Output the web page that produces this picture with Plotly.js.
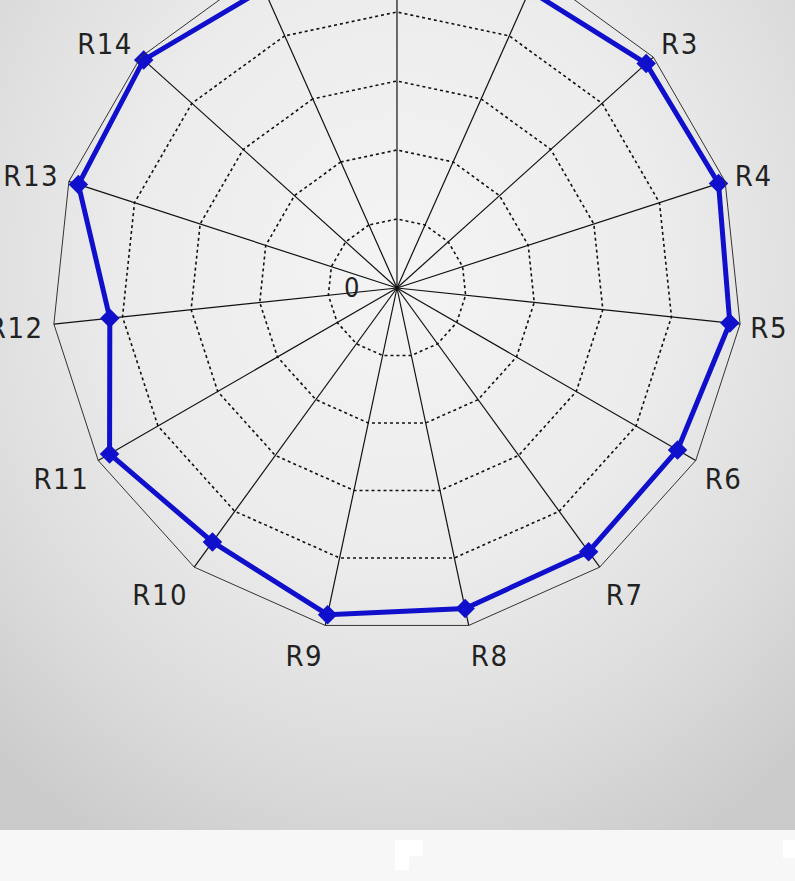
<!DOCTYPE html>
<html>
<head>
<meta charset="utf-8">
<script src="https://cdn.plot.ly/plotly-3.0.1.min.js"></script>
<style>
  html, body { margin:0; padding:0; width:795px; height:881px; overflow:hidden; }
  #bg { position:absolute; left:0; top:0; width:795px; height:830px;
        background: radial-gradient(ellipse 75% 80% at 50% 32%, #f4f4f4 0%, #ececec 45%, #dcdcdc 75%, #cbcbcb 100%); }
  #strip { position:absolute; left:0; top:830px; width:795px; height:51px; background:#f7f7f7; }
  .wb { position:absolute; background:#ffffff; }
  #chart { position:absolute; left:0; top:-100px; width:795px; height:1000px; }
  #chart svg text { letter-spacing: 1.5px; }
</style>
</head>
<body>
<div id="bg"></div>
<div id="strip"></div>
<div class="wb" style="left:395px;top:840px;width:28px;height:16px;"></div>
<div class="wb" style="left:395px;top:856px;width:14px;height:14px;"></div>
<div class="wb" style="left:783px;top:840px;width:12px;height:18px;"></div>
<div id="chart"></div>
<script>
const categories = ['R1','R2','R3','R4','R5','R6','R7','R8','R9','R10','R11','R12','R13','R14','R15'];
const values = [96, 94.4, 97.2, 98, 97, 93.9, 94.5, 95, 96.8, 91, 96.2, 83.7, 97.1, 98.8, 94.9];
const radialTicks = [0, 20, 40, 60, 80, 100];
const radialTickText = ['0', '', '', '', '', ''];

const trace = {
  type: 'scatterpolar',
  r: values.concat([values[0]]),
  theta: categories.concat([categories[0]]),
  mode: 'lines+markers',
  line: { color: '#1010cc', width: 5 },
  marker: { symbol: 'diamond', size: 15, color: '#1010cc' },
  hoverinfo: 'skip',
  showlegend: false
};

const layout = {
  width: 795, height: 1000,
  margin: { l: 0, r: 0, t: 0, b: 0 },
  paper_bgcolor: 'rgba(0,0,0,0)',
  plot_bgcolor: 'rgba(0,0,0,0)',
  showlegend: false,
  polar: {
    domain: { x: [0.0654, 0.9333], y: [0.267, 0.957] },
    bgcolor: 'rgba(0,0,0,0)',
    gridshape: 'linear',
    angularaxis: {
      type: 'category',
      categoryarray: categories,
      rotation: 90,
      direction: 'clockwise',
      showline: true,
      linecolor: '#333333',
      linewidth: 1,
      showgrid: true,
      gridcolor: '#111111',
      gridwidth: 1.2,
      ticks: 'outside',
      ticklen: 4,
      tickcolor: 'rgba(0,0,0,0)',
      tickfont: { family: 'DejaVu Sans Condensed, DejaVu Sans, Arial', size: 29, color: '#222222' }
    },
    radialaxis: {
      range: [0, 100],
      angle: 90,
      side: 'counterclockwise',
      tickmode: 'array',
      tickvals: radialTicks,
      ticktext: radialTickText,
      tickangle: 90,
      showline: false,
      showgrid: true,
      gridcolor: '#111111',
      gridwidth: 1.6,
      griddash: '3px,3px',
      ticks: 'outside',
      ticklen: 26,
      tickcolor: 'rgba(0,0,0,0)',
      tickfont: { family: 'DejaVu Sans Condensed, DejaVu Sans, Arial', size: 27, color: '#222222' }
    }
  }
};

Plotly.newPlot('chart', [trace], layout, { displayModeBar: false, staticPlot: true });
</script>
</body>
</html>
